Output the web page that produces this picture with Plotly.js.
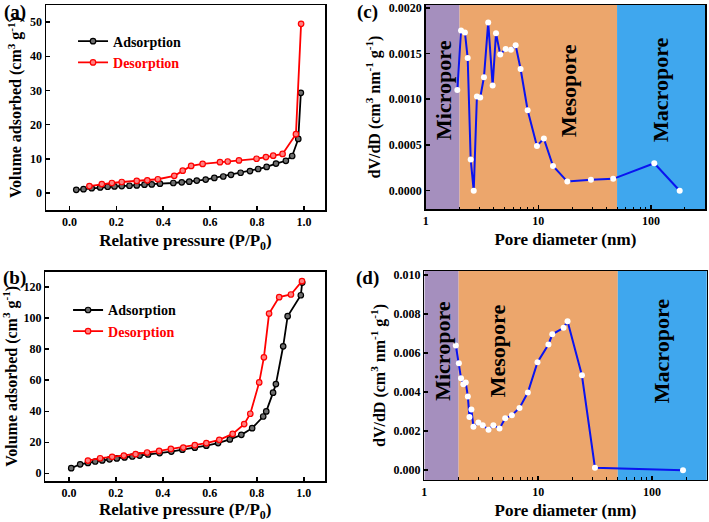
<!DOCTYPE html>
<html>
<head>
<meta charset="utf-8">
<script src="https://cdn.plot.ly/plotly-3.0.1.min.js"></script>
<style>html,body{margin:0;padding:0;background:#fff;}#chart{width:709px;height:522px;}</style>
</head>
<body>
<div id="chart"></div>
<script>
// Panel (a)
const aAdsX = [0.029,0.060,0.095,0.131,0.163,0.192,0.223,0.256,0.287,0.320,0.351,0.386,0.443,0.479,0.511,0.543,0.581,0.618,0.656,0.689,0.730,0.770,0.805,0.841,0.881,0.923,0.950,0.976,0.987];
const aAdsY = [0.9,1.1,1.4,1.6,1.8,1.9,2.0,2.1,2.2,2.4,2.5,2.7,2.9,3.1,3.3,3.6,3.9,4.4,4.8,5.3,5.9,6.4,7.0,7.6,8.6,9.4,10.8,15.8,29.3];
const aDesX = [0.085,0.138,0.181,0.223,0.287,0.332,0.377,0.447,0.483,0.519,0.568,0.642,0.675,0.723,0.798,0.838,0.869,0.909,0.966,0.988];
const aDesY = [2.0,2.6,2.9,3.2,3.5,3.7,4.0,5.0,6.5,7.9,8.5,9.0,9.2,9.5,10.0,10.5,10.9,11.4,17.2,49.5];
// Panel (b)
const bAdsX = [0.010,0.048,0.081,0.112,0.142,0.173,0.204,0.237,0.270,0.301,0.337,0.386,0.436,0.483,0.536,0.585,0.635,0.685,0.734,0.780,0.827,0.840,0.869,0.881,0.912,0.931,0.987,0.993];
const bAdsY = [3.3,5.8,6.7,7.6,8.3,9.0,9.6,10.2,10.8,11.4,12.1,13.0,14.0,15.2,16.5,17.8,19.5,21.8,24.8,29.1,36.6,39.9,52.0,57.5,81.9,101.3,114.8,123.0];
const bDesX = [0.081,0.133,0.184,0.234,0.284,0.333,0.384,0.434,0.487,0.536,0.585,0.640,0.697,0.746,0.772,0.810,0.830,0.852,0.895,0.945,0.992];
const bDesY = [8.2,9.7,10.6,11.4,12.3,13.4,14.4,15.7,16.6,18.1,19.4,21.6,25.4,31.7,38.4,58.6,74.8,103.0,113.6,115.3,123.9];
// Panel (c)
const cD = [1.91,2.06,2.23,2.36,2.51,2.67,2.85,3.05,3.29,3.59,3.93,4.21,4.59,5.13,5.71,6.29,6.96,8.04,9.72,11.2,13.5,18.1,29.3,46.2,107,180];
const cV = [0.00110,0.00175,0.00173,0.00145,0.00034,0.00000,0.00103,0.00102,0.00124,0.00184,0.00115,0.00172,0.00149,0.00155,0.00154,0.00159,0.00133,0.00088,0.00049,0.00057,0.00027,0.00010,0.00012,0.00013,0.00030,0.00000];
// Panel (d)
const dD = [1.89,2.01,2.10,2.20,2.31,2.41,2.49,2.59,2.70,2.98,3.26,3.66,4.04,4.57,5.13,5.87,6.85,8.11,9.86,12.3,13.3,16.7,18.1,24.2,31.5,187];
const dV = [0.00639,0.00548,0.00471,0.00440,0.00449,0.00378,0.00272,0.00311,0.00222,0.00244,0.00230,0.00207,0.00230,0.00213,0.00266,0.00282,0.00319,0.00398,0.00553,0.00644,0.00696,0.00729,0.00763,0.00486,0.00013,0.00000];
// Pore regions
const regionBounds = [1, 2, 50, 1000];
const regionNames = ['Micropore', 'Mesopore', 'Macropore'];
const regionColors = ['#A58FBE', '#ECA66C', '#3FA7EE'];
const cLabelX = [1.42, 18.3, 120];
const dLabelX = [1.42, 4.36, 120];

const FONT = 'Liberation Serif, Times New Roman, serif';

function adsTrace(x, y, xa, ya, leg, show) {
  return {x:x, y:y, xaxis:xa, yaxis:ya, type:'scatter', mode:'lines+markers', name:'Adsorption',
    legend:leg, showlegend:show,
    line:{color:'#000', width:1.8}, marker:{symbol:'circle', size:5.5, color:'#6e6e6e', line:{color:'#000', width:1.2}}};
}
function desTrace(x, y, xa, ya, leg, show) {
  return {x:x, y:y, xaxis:xa, yaxis:ya, type:'scatter', mode:'lines+markers', name:'<span style="color:#ff0000">Desorption</span>',
    legend:leg, showlegend:show,
    line:{color:'#ff0000', width:1.8}, marker:{symbol:'circle', size:5.5, color:'#ff8080', line:{color:'#ff0000', width:1.2}}};
}
function psdTrace(x, y, xa, ya) {
  return {x:x, y:y, xaxis:xa, yaxis:ya, type:'scatter', mode:'lines+markers', showlegend:false,
    line:{color:'#0a14f0', width:2}, marker:{symbol:'circle', size:6, color:'#ffffff', line:{width:0}}};
}

const data = [
  adsTrace(aAdsX, aAdsY, 'x', 'y', 'legend', true),
  desTrace(aDesX, aDesY, 'x', 'y', 'legend', true),
  adsTrace(bAdsX, bAdsY, 'x2', 'y2', 'legend2', true),
  desTrace(bDesX, bDesY, 'x2', 'y2', 'legend2', true),
  psdTrace(cD, cV, 'x3', 'y3'),
  psdTrace(dD, dV, 'x4', 'y4')
];

const tickFont = {family:FONT, size:12, color:'#000', weight:'bold'};
const titleFontX = {family:FONT, size:17, color:'#000', weight:'bold'};
const titleFontY = {family:FONT, size:16, color:'#000', weight:'bold'};

function linAxis(domain, anchor, range, dtick, fmt, title, tf, standoff) {
  return {domain:domain, anchor:anchor, range:range, dtick:dtick, tick0:0, tickformat:fmt,
    showline:true, mirror:true, linecolor:'#000', linewidth:1.5, ticks:'inside', ticklen:4, tickwidth:1.5,
    tickcolor:'#000', showgrid:false, zeroline:false, tickfont:tickFont,
    title:{text:title, font:tf, standoff:standoff}};
}
function logAxis(domain, anchor, title) {
  return {domain:domain, anchor:anchor, type:'log', range:[0, 2.48], tickmode:'array', tickvals:[1,10,100], ticktext:['1','10','100'],
    showline:true, mirror:true, linecolor:'#000', linewidth:1.5, ticks:'inside', ticklen:4, tickwidth:1.5,
    tickcolor:'#000', showgrid:false, zeroline:false, tickfont:tickFont,
    minor:{ticks:'inside', ticklen:2.5, tickwidth:1, tickcolor:'#000', tickmode:'array',
      tickvals:[2,3,4,5,6,7,8,9,20,30,40,50,60,70,80,90,200,300]},
    title:{text:title, font:titleFontX, standoff:6}};
}

const shapes = [];
['x3','x4'].forEach(function(xr, k) {
  const yr = k === 0 ? 'y3 domain' : 'y4 domain';
  for (let i = 0; i < regionNames.length; i++) {
    shapes.push({type:'rect', layer:'below', xref:xr, yref:yr, x0:regionBounds[i], x1:regionBounds[i+1], y0:0, y1:1,
      fillcolor:regionColors[i], line:{width:0}});
  }
});

const annotations = [];
const panelLabels = [['(a)',0.021,0.977],['(b)',0.021,0.468],['(c)',0.519,0.977],['(d)',0.519,0.468]];
panelLabels.forEach(function(p){
  annotations.push({text:p[0], xref:'paper', yref:'paper', x:p[1], y:p[2], xanchor:'center', yanchor:'middle', showarrow:false,
    font:{family:FONT, size:19, color:'#000', weight:'bold'}});
});
for (let i = 0; i < regionNames.length; i++) {
  annotations.push({text:regionNames[i], xref:'x3', yref:'y3', x:Math.log10(cLabelX[i]), y:0.00110, textangle:-90, showarrow:false,
    font:{family:FONT, size:22, color:'#000', weight:'bold'}});
  annotations.push({text:regionNames[i], xref:'x4', yref:'y4', x:Math.log10(dLabelX[i]), y:0.0061, textangle:-90, showarrow:false,
    font:{family:FONT, size:22, color:'#000', weight:'bold'}});
}

const yTitleA = 'Volume adsorbed (cm<sup>3</sup> g<sup>-1</sup>)';
const xTitleA = 'Relative pressure (P/P<sub>0</sub>)';
const yTitleC = 'dV/dD (cm<sup>3</sup> nm<sup>-1</sup> g<sup>-1</sup>)';
const xTitleC = 'Pore diameter (nm)';

const legendStyle = function(x, y) {
  return {x:x, y:y, xanchor:'left', yanchor:'top', bgcolor:'rgba(0,0,0,0)', borderwidth:0, itemwidth:30,
    tracegroupgap:0, font:{family:FONT, size:14, color:'#000', weight:'bold'}};
};

const layout = {
  width:709, height:522, margin:{l:0, r:0, t:0, b:0}, paper_bgcolor:'#fff', plot_bgcolor:'#fff',
  showlegend:true,
  xaxis: linAxis([0.0649,0.4584], 'y', [-0.1,1.09], 0.2, '.1f', xTitleA, titleFontX, 6),
  yaxis: linAxis([0.5977,0.9904], 'x', [-5,55], 10, 'd', yTitleA, titleFontY, 4),
  xaxis2: linAxis([0.0640,0.4584], 'y2', [-0.1,1.09], 0.2, '.1f', xTitleA, titleFontX, 6),
  yaxis2: linAxis([0.0785,0.4795], 'x2', [-5,130], 20, 'd', yTitleA, titleFontY, 4),
  xaxis3: logAxis([0.6004,0.9944], 'y3', xTitleC),
  yaxis3: linAxis([0.5996,0.9904], 'x3', [-0.0002,0.00203], 0.0005, '.4f', yTitleC, titleFontY, 4),
  xaxis4: logAxis([0.5985,0.9968], 'y4', xTitleC),
  yaxis4: linAxis([0.0805,0.4808], 'x4', [-0.0005,0.0102], 0.002, '.3f', yTitleC, titleFontY, 4),
  legend: legendStyle(0.103, 0.951),
  legend2: legendStyle(0.096, 0.436),
  shapes: shapes,
  annotations: annotations
};

Plotly.newPlot('chart', data, layout, {displayModeBar:false, staticPlot:true});
</script>
</body>
</html>
